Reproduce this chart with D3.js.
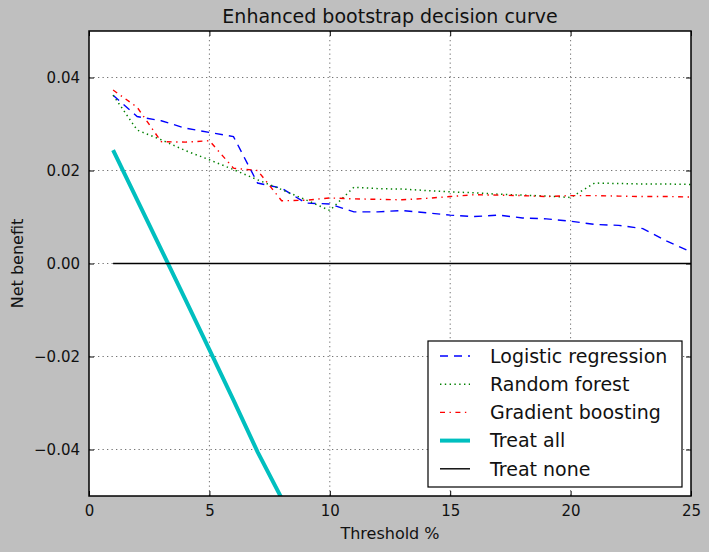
<!DOCTYPE html>
<html><head><meta charset="utf-8">
<script src="https://cdn.jsdelivr.net/npm/d3@7"></script>
<style>
html,body{margin:0;padding:0;background:#bfbfbf;}
svg{display:block;font-family:"DejaVu Sans",sans-serif;}
</style></head>
<body>
<svg id="chart" width="709" height="552"></svg>
<script>
const thresholds = d3.range(1, 26);
const logistic = [0.0362,0.0316,0.0307,0.0291,0.0282,0.0273,0.0173,0.0162,0.0130,0.0128,0.0111,0.0111,0.0114,0.0109,0.0104,0.0101,0.0104,0.0098,0.0096,0.0091,0.0084,0.0082,0.0075,0.0048,0.0025];
const randomForest = [0.0362,0.0287,0.0266,0.0243,0.0223,0.0202,0.0180,0.0159,0.0137,0.0114,0.0164,0.0161,0.0160,0.0157,0.0154,0.0152,0.0149,0.0147,0.0145,0.0142,0.0173,0.0172,0.0171,0.0171,0.0170];
const gradBoost = [0.0373,0.0336,0.0262,0.0261,0.0264,0.0205,0.0200,0.0135,0.0136,0.0141,0.0139,0.0138,0.0137,0.0140,0.0144,0.0148,0.0147,0.0146,0.0144,0.0146,0.0146,0.0145,0.0144,0.0144,0.0143];
const treatAllX = [1,2,3,4,5,6,7,8];
const treatAll = [0.0244,0.0137,0.0030,-0.0077,-0.0185,-0.0294,-0.0405,-0.0505];
const treatNone = thresholds.map(() => 0);
const xTicks = [0,5,10,15,20,25];
const yTicks = [-0.04,-0.02,0,0.02,0.04];
const seriesNames = ["Logistic regression","Random forest","Gradient boosting","Treat all","Treat none"];

const svg = d3.select("#chart");
const L = 89, R = 691, T = 31, B = 496;
const x = d3.scaleLinear().domain([0,25]).range([L,R]);
const y = d3.scaleLinear().domain([-0.05,0.05]).range([B,T]);

svg.append("defs").append("clipPath").attr("id","clip")
  .append("rect").attr("x",L).attr("y",T).attr("width",R-L).attr("height",B-T);

svg.append("rect").attr("x",L).attr("y",T).attr("width",R-L).attr("height",B-T).attr("fill","#fff");

// grid
const grid = svg.append("g").attr("stroke","#000").attr("stroke-opacity",0.55).attr("stroke-width",1).attr("stroke-dasharray","1.3,3.2");
grid.selectAll(".gx").data(xTicks.slice(1,-1)).join("line")
  .attr("x1",d=>x(d)).attr("x2",d=>x(d)).attr("y1",T).attr("y2",B);
grid.selectAll(".gy").data(yTicks).join("line")
  .attr("x1",L).attr("x2",R).attr("y1",d=>y(d)).attr("y2",d=>y(d));

const plot = svg.append("g").attr("clip-path","url(#clip)");
const line = d3.line().x(d=>x(d[0])).y(d=>y(d[1]));
const styles = [
  {data: d3.zip(thresholds, logistic), color:"#0000ff", w:1.4, dash:"8,6"},
  {data: d3.zip(thresholds, randomForest), color:"#008000", w:1.5, dash:"1.4,3.4"},
  {data: d3.zip(thresholds, gradBoost), color:"#ff0000", w:1.4, dash:"5,4.5,1.4,4.5"},
  {data: d3.zip(treatAllX, treatAll), color:"#00bfbf", w:4, dash:null},
  {data: d3.zip(thresholds, treatNone), color:"#000000", w:1.4, dash:null}
];
styles.forEach(s => {
  plot.append("path").attr("d", line(s.data)).attr("fill","none")
    .attr("stroke", s.color).attr("stroke-width", s.w)
    .attr("stroke-dasharray", s.dash);
});

// axes with inward ticks
const fmtY = d3.format(".2f");
const xAxisB = d3.axisBottom(x).tickValues(xTicks).tickSizeInner(-5).tickSizeOuter(0).tickPadding(9);
const xAxisT = d3.axisTop(x).tickValues(xTicks).tickSizeInner(-5).tickSizeOuter(0).tickFormat("");
const yAxisL = d3.axisLeft(y).tickValues(yTicks).tickSizeInner(-5).tickSizeOuter(0).tickPadding(9).tickFormat(fmtY);
const yAxisR = d3.axisRight(y).tickValues(yTicks).tickSizeInner(-5).tickSizeOuter(0).tickFormat("");
[[xAxisB,`translate(0,${B})`],[xAxisT,`translate(0,${T})`],[yAxisL,`translate(${L},0)`],[yAxisR,`translate(${R},0)`]].forEach(([ax,tr])=>{
  const g = svg.append("g").attr("transform",tr).call(ax);
  g.select(".domain").remove();
  g.selectAll("line").attr("stroke","#000").attr("stroke-width",1);
  g.selectAll("text").attr("fill","#111").style("font-size","15px").style("font-family","DejaVu Sans");
});

svg.append("rect").attr("x",L).attr("y",T).attr("width",R-L).attr("height",B-T)
  .attr("fill","none").attr("stroke","#000").attr("stroke-width",1.5);

// titles
svg.append("text").attr("x",(L+R)/2).attr("y",23).attr("text-anchor","middle")
  .style("font-size","19px").attr("fill","#111").text("Enhanced bootstrap decision curve");
svg.append("text").attr("x",(L+R)/2).attr("y",539).attr("text-anchor","middle")
  .style("font-size","16px").attr("fill","#111").text("Threshold %");
svg.append("text").attr("transform",`translate(23,${(T+B)/2}) rotate(-90)`).attr("text-anchor","middle")
  .style("font-size","16px").attr("fill","#111").text("Net benefit");

// legend
const lg = svg.append("g");
lg.append("rect").attr("x",428).attr("y",341).attr("width",254).attr("height",146)
  .attr("fill","#fff").attr("stroke","#000").attr("stroke-width",1.2);
seriesNames.forEach((name,i)=>{
  const cy = 356 + i*28.2;
  const s = styles[i];
  lg.append("line").attr("x1",440).attr("x2",470).attr("y1",cy).attr("y2",cy)
    .attr("stroke",s.color).attr("stroke-width",s.w).attr("stroke-dasharray",s.dash);
  lg.append("text").attr("x",490).attr("y",cy).attr("dy","0.36em")
    .style("font-size","19px").attr("fill","#111").text(name);
});
</script>
</body></html>
